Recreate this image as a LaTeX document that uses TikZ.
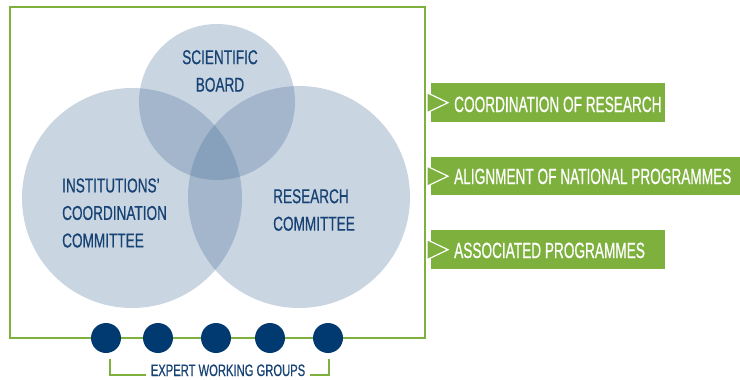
\documentclass[tikz,border=0pt]{standalone}
\usepackage{fontspec}
\setmainfont{Liberation Sans}
\newfontfamily\boxfont{Liberation Sans}[FakeStretch=0.62,FakeBold=0.6]
\newfontfamily\vennfont{Liberation Sans}[FakeStretch=0.68,FakeBold=0.6]
\usetikzlibrary{positioning}

\definecolor{navy}{RGB}{0,58,112}
\definecolor{txtblue}{RGB}{22,66,116}
\definecolor{leaf}{RGB}{125,176,61}
\definecolor{venn}{RGB}{62,103,148}

\begin{document}
\begin{tikzpicture}[x=1pt,y=-1pt,
  venn/.style={circle,fill=venn,fill opacity=0.28,inner sep=0},
  vlbl/.style={text=txtblue,inner sep=0,font=\vennfont\fontsize{20}{27.5}\selectfont},
  gbox/.style={fill=leaf,inner sep=0,anchor=north west},
  blbl/.style={text=white,inner sep=0,anchor=base west,font=\boxfont\fontsize{22}{26}\selectfont},
  ewg/.style={circle,fill=navy,minimum size=30pt,inner sep=0}]
\useasboundingbox (0,0) rectangle (740,380);

% frame
\draw[leaf,line width=1.2pt] (10,7) rectangle (425,338);

% the three bodies
\node[venn,minimum size=156pt] (sb) at (217,102) {};
\node[venn,minimum size=220pt] (icc) at (132,198) {};
\node[venn,minimum size=222pt] (rc) at (299,197) {};

\node[vlbl,align=center] (sbl) at (220,71) {SCIENTIFIC\\BOARD};
\node[vlbl,align=left,anchor=west] (iccl) at (62,213) {INSTITUTIONS’\\COORDINATION\\COMMITTEE};
\node[vlbl,align=left,anchor=west] (rcl) at (273,210) {RESEARCH\\COMMITTEE};

% working groups
\foreach \x [count=\i] in {106,158,216,270,328}
  \node[ewg] (g\i) at (\x,338) {};

\node[text=txtblue,font=\vennfont\fontsize{16.5}{20}\selectfont,inner xsep=5pt,inner ysep=0,anchor=base] (ewgl) at (228,376) {EXPERT WORKING GROUPS};
\coordinate (bl) at (110,359);
\coordinate (br) at (329,359);
\draw[leaf,line width=1.2pt] (bl) |- ([yshift=1pt]ewgl.base west);
\draw[leaf,line width=1.2pt] (br) |- ([yshift=1pt]ewgl.base east);

% tasks
\node[gbox,minimum width=234pt,minimum height=39pt] (cor) at (431,83) {};
\node[gbox,minimum width=309pt,minimum height=38pt] (anp) at (431,157) {};
\node[gbox,minimum width=234pt,minimum height=39pt] (asp) at (431,230) {};

\foreach \n in {cor,anp,asp}
  \draw[white,fill=leaf,line width=1.2pt] ([xshift=-4pt,yshift=10pt]\n.west) -- ([xshift=17pt]\n.west) -- ([xshift=-4pt,yshift=-10pt]\n.west) -- cycle;

\node[blbl] (corl) at (454,112) {COORDINATION OF RESEARCH};
\node[blbl] (anpl) at (454,184) {ALIGNMENT OF NATIONAL PROGRAMMES};
\node[blbl] (aspl) at (454,258) {ASSOCIATED PROGRAMMES};
\end{tikzpicture}
\end{document}
